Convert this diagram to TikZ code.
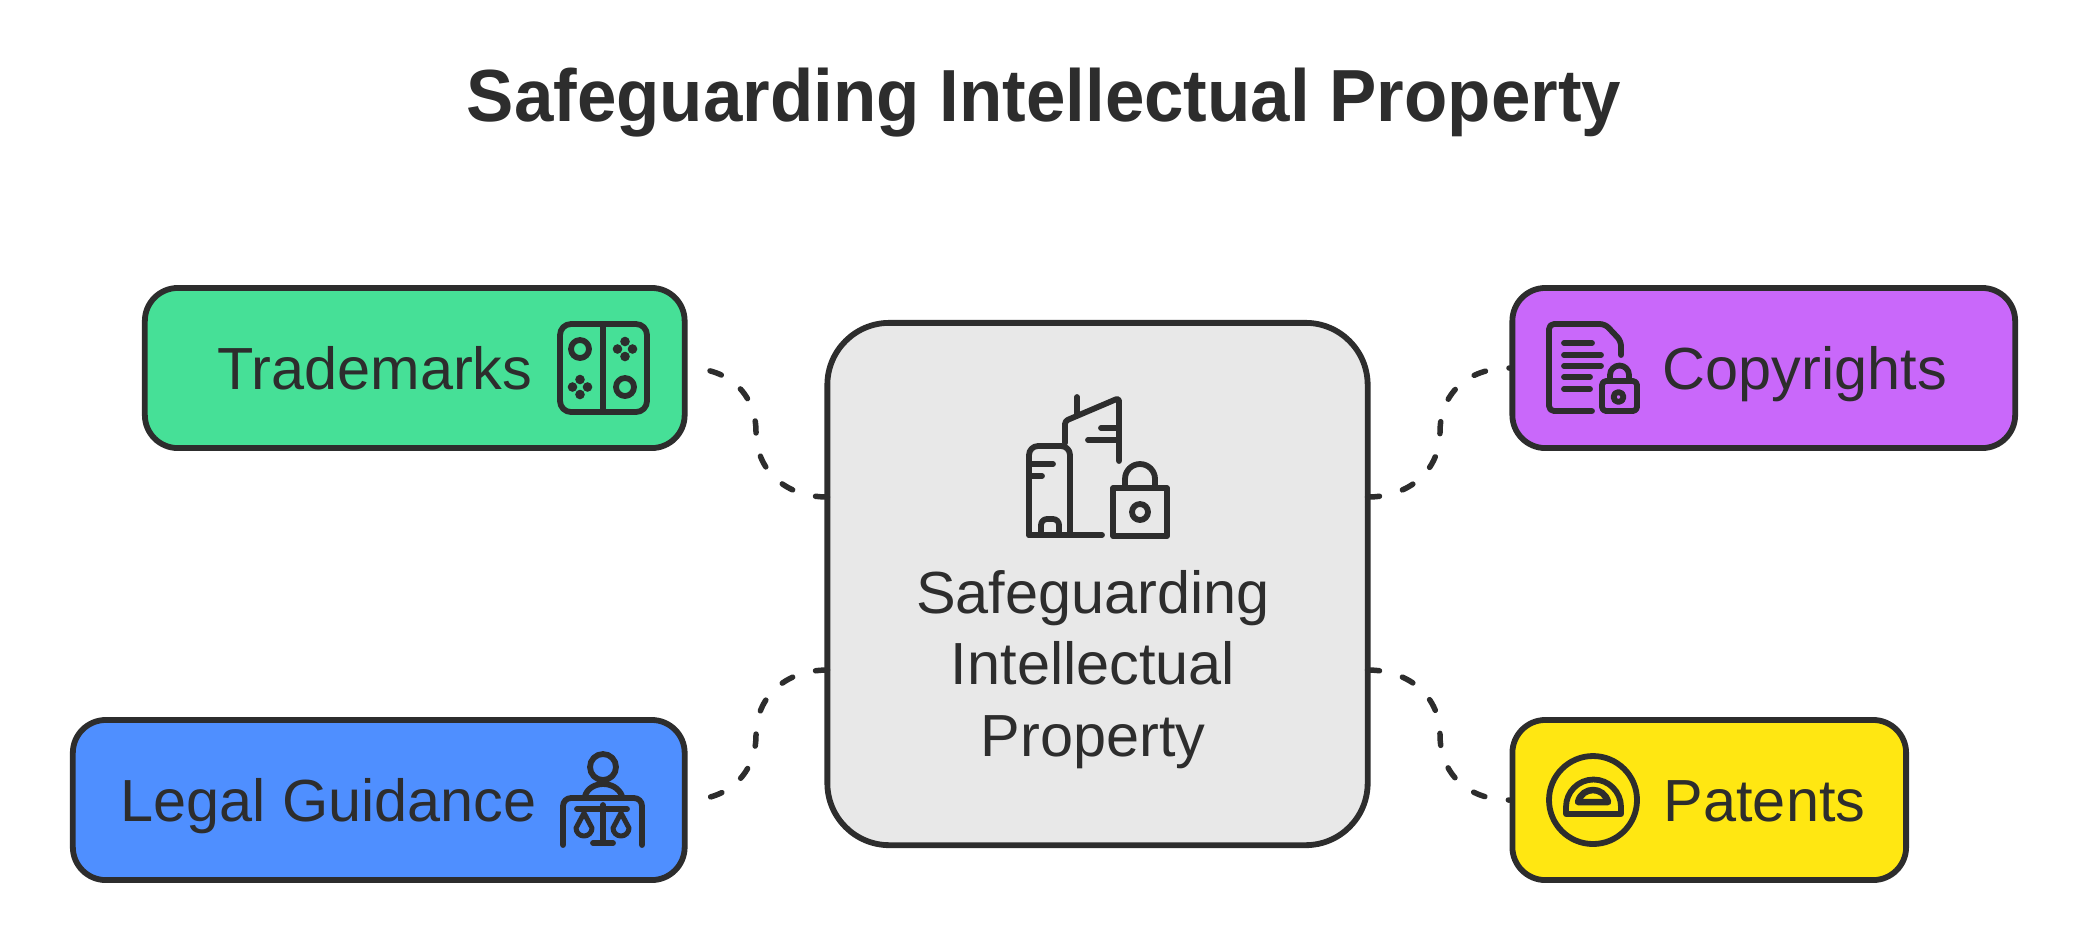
\documentclass[tikz,border=0pt]{standalone}
\usepackage{fontspec}
\setmainfont{Liberation Sans}
\newfontfamily\headingfont[FakeStretch=0.96]{Liberation Sans}
\usetikzlibrary{positioning,calc}
\definecolor{inkdark}{HTML}{2D2D2D}
\definecolor{trademarkgreen}{HTML}{46E097}
\definecolor{copyrightpurple}{HTML}{C968FA}
\definecolor{legalblue}{HTML}{4F8FFF}
\definecolor{patentyellow}{HTML}{FFE712}
\definecolor{centergray}{HTML}{E8E8E8}
\tikzset{
  infobox/.style={draw=inkdark,line width=0.058cm,rounded corners=0.33cm,inner sep=0pt},
  boxlabel/.style={text=inkdark,font=\fontsize{16.9}{20}\selectfont,inner sep=0pt,anchor=base},
  icon/.style={draw=inkdark,line width=0.058cm,line cap=round,line join=round},
  linkdash/.style={draw=inkdark,line width=0.055cm,line cap=round,dash pattern=on 0.12cm off 0.238cm},
}
\begin{document}
\begin{tikzpicture}[x=0.01cm,y=-0.01cm]
\useasboundingbox (0,0) rectangle (2088,941);
\node[text=inkdark,font=\fontsize{21}{26}\selectfont\headingfont\bfseries,inner sep=0pt] (heading) at (1044,103) {Safeguarding Intellectual Property};
\node[infobox,fill=centergray,rounded corners=0.62cm,minimum width=5.4cm,minimum height=5.22cm] (safeguard) at (1097.5,584) {};
\node[infobox,fill=trademarkgreen,minimum width=5.395cm,minimum height=1.6cm] (trademarks) at (414.75,368) {};
\node[infobox,fill=copyrightpurple,minimum width=5.025cm,minimum height=1.6cm] (copyrights) at (1763.75,368) {};
\node[infobox,fill=legalblue,minimum width=6.115cm,minimum height=1.6cm] (legal) at (378.75,800) {};
\node[infobox,fill=patentyellow,minimum width=3.935cm,minimum height=1.6cm] (patents) at (1709.25,800) {};
\node[boxlabel] (trademarksLabel) at (375,389) {Trademarks};
\node[boxlabel] (copyrightsLabel) at (1805,389) {Copyrights};
\node[boxlabel] (legalLabel) at (328.5,821) {Legal Guidance};
\node[boxlabel] (patentsLabel) at (1764.5,821) {Patents};
\node[boxlabel,anchor=center,align=center,font=\fontsize{16.9}{20.3}\selectfont] (safeguardLabel) at (1093,669.5) {Safeguarding\\Intellectual\\Property};
\coordinate (portA) at (827.5,497);
\coordinate (portB) at (1367.5,497);
\coordinate (portC) at (827.5,670);
\coordinate (portD) at (1367.5,670);
\coordinate (midA) at (756,432);
\coordinate (midB) at (1440,432);
\coordinate (midC) at (756,735);
\coordinate (midD) at (1440,735);
\draw[linkdash] (portA) .. controls (785,497) and (756,470) .. (midA) .. controls (756,395) and (730,368) .. (trademarks.east);
\draw[linkdash] (portB) .. controls (1410,497) and (1440,470) .. (midB) .. controls (1440,395) and (1466,368) .. (copyrights.west);
\draw[linkdash] (portC) .. controls (785,670) and (756,697) .. (midC) .. controls (756,772) and (730,800) .. (legal.east);
\draw[linkdash] (portD) .. controls (1410,670) and (1440,697) .. (midD) .. controls (1440,772) and (1466,800) .. (patents.west);
\draw[icon] (1029,535) -- (1102,535);
\draw[icon,rounded corners=0.09cm] (1029,535) -- (1029,446) -- (1070,446) -- (1070,535);
\draw[icon] (1032,464) -- (1053,464) (1032,476) -- (1042,476);
\draw[icon,rounded corners=0.06cm] (1041,533) -- (1041,519) -- (1059,519) -- (1059,533);
\draw[icon,rounded corners=0.03cm] (1065,443) -- (1065,421) -- (1119,398) -- (1119,461);
\draw[icon] (1077,397) -- (1077,415);
\draw[icon] (1101,428) -- (1119,428) (1088,440) -- (1119,440);
\draw[icon] (1113,488) rectangle (1167,536);
\draw[icon] (1125,488) -- (1125,479) arc (180:360:15) -- (1155,488);
\draw[icon] (1140,512) circle (8);
\draw[icon,rounded corners=0.11cm] (560,324) rectangle (647,412);
\draw[icon] (603,324) -- (603,412);
\draw[icon] (580,349) circle (9) (625,387) circle (9);
\foreach \cx/\cy in {625/349,580/387}{
  \foreach \dx/\dy in {7.5/0,-7.5/0,0/7.5,0/-7.5}{
    \fill[inkdark] (\cx+\dx,\cy+\dy) circle (4.8);
  }
}
\draw[icon,rounded corners=0.05cm] (1592,411) -- (1549,411) -- (1549,324) -- (1605,324) -- (1621,341) -- (1621,355);
\draw[icon] (1564,343) -- (1592,343) (1564,355) -- (1601,355) (1564,366) -- (1601,366) (1564,377) -- (1590,377) (1564,389) -- (1590,389);
\draw[icon,rounded corners=0.04cm] (1602,381) rectangle (1637,411);
\draw[icon] (1610,381) -- (1610,375) arc (180:360:9.5) -- (1629,381);
\draw[icon] (1618.5,397) circle (5);
\draw[icon] (603,767) circle (13);
\draw[icon] (585,796) .. controls (590,780) and (616,780) .. (622,796);
\draw[icon,rounded corners=0.08cm] (563,845) -- (563,798) -- (642,798) -- (642,845);
\draw[icon] (577,809) -- (627,809) (603,805) -- (603,843) (593,843) -- (613,843);
\foreach \px in {584,621}{
  \draw[icon,line width=0.05cm] (\px,813) -- (\px-8,828) arc (180:0:8) -- cycle;
}
\draw[icon] (1593,800) circle (44);
\draw[icon] (1566,814) -- (1566,807) arc (180:360:27.5) -- (1621,814) -- cycle;
\draw[icon,line width=0.065cm] (1578,802) .. controls (1582,786) and (1604,786) .. (1608,802) -- cycle;
\end{tikzpicture}
\end{document}
